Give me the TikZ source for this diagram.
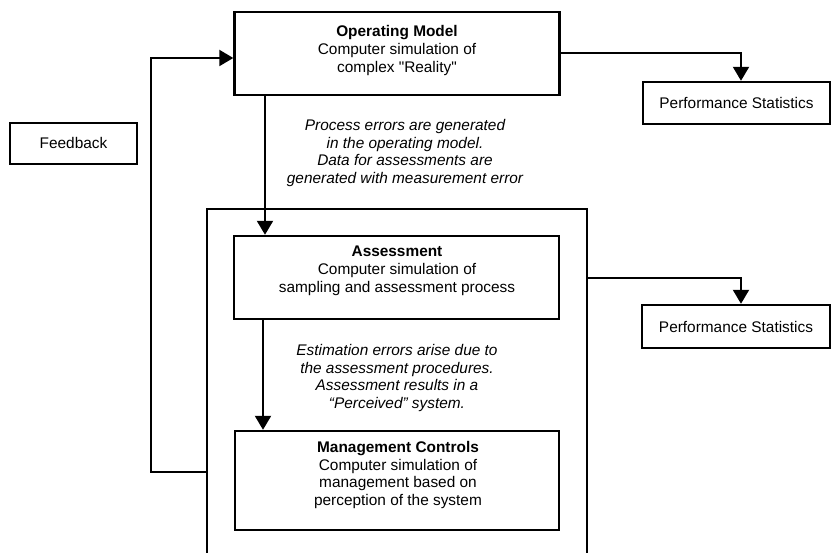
\documentclass[tikz,border=0pt]{standalone}
\usepackage{fontspec}
\setmainfont{Liberation Sans}[Ligatures=TeXOff]
\usetikzlibrary{arrows.meta}
\tikzset{
  box/.style={draw, line width=2.4pt, fill=white, inner sep=0pt},
  txt/.style={align=center, font=\fontsize{15.4}{17.8}\selectfont, inner sep=0pt},
  itxt/.style={txt, font=\fontsize{15.4}{17.6}\selectfont\itshape},
  conn/.style={line width=2pt},
  arr/.style={conn, -{Triangle[width=16pt,length=14pt]}}
}
\begin{document}
\begin{tikzpicture}[x=1pt,y=-1pt]
\useasboundingbox (0,0) rectangle (831,553);
% big enclosing box (open at bottom)
\coordinate (bbBL) at (207,553);
\coordinate (bbTL) at (207,209);
\coordinate (bbTR) at (587,209);
\coordinate (bbBR) at (587,553);
\draw[line width=2.4pt] (bbBL) -- (bbTL) -- (bbTR) -- (bbBR);
\coordinate (bbL) at (207,472);
\coordinate (bbR) at (587,278);
\coordinate (fbk) at (151,472);

% boxes
\node[box, minimum width=325pt, minimum height=83pt] (op) at (397,53.5) {};
\node[txt] (optxt) at (397,50.5) {\textbf{Operating Model}\\Computer simulation of\\complex "Reality"};

\node[box, minimum width=325pt, minimum height=83pt] (as) at (396.5,277.5) {};
\node[txt] (astxt) at (397,271) {\textbf{Assessment}\\Computer simulation of\\sampling and assessment process};

\node[box, minimum width=324pt, minimum height=99pt] (mc) at (397,480.5) {};
\node[txt] (mctxt) at (398,475) {\textbf{Management Controls}\\Computer simulation of\\management based on\\perception of the system};

\node[box, minimum width=187pt, minimum height=42pt] (ps1) at (736.5,103) {};
\node[txt] (ps1txt) at (736.5,103) {Performance Statistics};

\node[box, minimum width=188pt, minimum height=43pt] (ps2) at (736,326.5) {};
\node[txt] (ps2txt) at (736,326.5) {Performance Statistics};

\node[box, line width=2pt, minimum width=127pt, minimum height=41pt] (fb) at (73.5,143.5) {};
\node[txt] (fbtxt) at (73.5,143) {Feedback};

% italic annotations
\node[itxt] (proc) at (405,153) {Process errors are generated\\in the operating model.\\Data for assessments are\\generated with measurement error};
\node[itxt] (est) at (397,378) {Estimation errors arise due to\\the assessment procedures.\\Assessment results in a\\“Perceived” system.};

% connectors
\draw[arr] (op.east) -| ([xshift=4.5pt]ps1.north);
\draw[arr] (bbR) -| ([xshift=5pt]ps2.north);
\draw[arr] ([xshift=-132pt]op.south) -- ([xshift=-132pt]op.south |- as.north);
\draw[arr] ([xshift=-133.5pt]as.south) -- ([xshift=-133.5pt]as.south |- mc.north);
\draw[arr] (bbL) -- (fbk) |- ([yshift=-4.5pt]op.west);
\end{tikzpicture}
\end{document}
